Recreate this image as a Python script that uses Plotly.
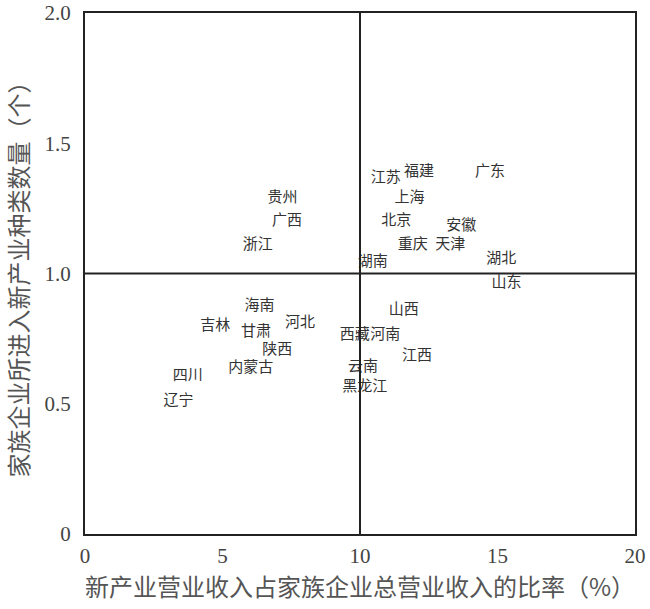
import plotly.graph_objects as go

# 省份标签及其坐标
provinces = ["贵州", "广西", "浙江", "湖南", "江苏", "福建", "广东", "上海", "北京",
             "安徽", "重庆", "天津", "湖北", "山东", "海南", "吉林", "甘肃", "河北",
             "陕西", "内蒙古", "四川", "辽宁", "山西", "西藏", "河南", "江西", "云南", "黑龙江"]
ratio = [7.18, 7.35, 6.28, 10.46, 10.94, 12.15, 14.73, 11.80, 11.32,
         13.68, 11.92, 13.28, 15.14, 15.33, 6.35, 4.74, 6.22, 7.82,
         6.99, 6.03, 3.74, 3.40, 11.59, 9.81, 10.92, 12.07, 10.11, 10.17]
count = [1.29, 1.20, 1.11, 1.045, 1.365, 1.387, 1.387, 1.289, 1.202,
         1.182, 1.109, 1.109, 1.055, 0.962, 0.873, 0.798, 0.773, 0.809,
         0.704, 0.636, 0.607, 0.508, 0.86, 0.764, 0.764, 0.683, 0.64, 0.563]

x_ticks = [0, 5, 10, 15, 20]
y_ticks = [0, 0.5, 1.0, 1.5, 2.0]
y_tick_text = ["0", "0.5", "1.0", "1.5", "2.0"]

CJK = "Noto Sans CJK SC"
SERIF = "Liberation Serif"

fig = go.Figure(go.Scatter(
    x=ratio,
    y=count,
    mode="text",
    text=provinces,
    textposition="middle center",
    textfont=dict(family=CJK, size=15, color="#333333"),
    hoverinfo="text",
    cliponaxis=False,
))

# 十字分割线
fig.add_vline(x=10, line_color="#222222", line_width=2)
fig.add_hline(y=1.0, line_color="#222222", line_width=2)

axis_common = dict(
    showgrid=False,
    zeroline=False,
    showline=True,
    mirror=True,
    linecolor="#222222",
    linewidth=2,
    ticks="",
    automargin=False,
    ticklabeloverflow="allow",
    tickfont=dict(family=SERIF, size=21, color="#444444"),
)

fig.update_xaxes(
    range=[0, 20],
    tickvals=x_ticks,
    ticklabelstandoff=2,
    title=dict(text="新产业营业收入占家族企业总营业收入的比率（%）",
               font=dict(family=CJK, size=24, color="#555555"), standoff=6),
    **axis_common,
)
fig.update_yaxes(
    range=[0, 2.0],
    tickvals=y_ticks,
    ticktext=y_tick_text,
    ticklabelstandoff=8,
    title=dict(text="家族企业所进入新产业种类数量（个）",
               font=dict(family=CJK, size=24, color="#555555"), standoff=20),
    **axis_common,
)

fig.update_layout(
    width=650,
    height=609,
    margin=dict(l=85, r=15, t=13, b=75),
    plot_bgcolor="white",
    paper_bgcolor="white",
    showlegend=False,
)

# 去掉页面 body 的默认 8px 外边距，并隐藏工具栏
fig.write_html(
    "out.html",
    config={"displayModeBar": False},
    post_script="document.body.style.margin='0';",
)
